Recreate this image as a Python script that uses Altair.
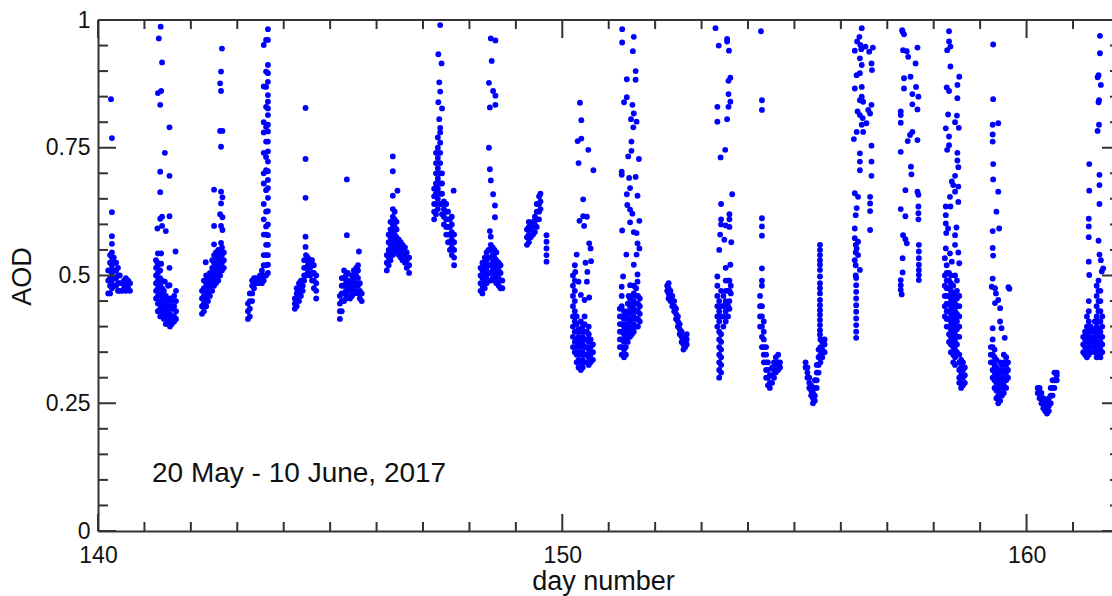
import altair as alt
import pandas as pd

# ---- data: (day number, [AOD values read at that day]) ----
day140 = [(140.28, [0.845]), (140.30, [0.769, 0.624, 0.577, 0.562]),
          (140.22, [0.51, 0.49, 0.465]),
          (140.26, [0.54, 0.525, 0.51, 0.495, 0.48, 0.465]),
          (140.30, [0.545, 0.535, 0.52, 0.505, 0.49, 0.475]),
          (140.34, [0.535, 0.525, 0.51, 0.495, 0.48]),
          (140.39, [0.525, 0.51, 0.495, 0.48]),
          (140.43, [0.515, 0.50, 0.485, 0.47]),
          (140.47, [0.50, 0.485, 0.47]), (140.52, [0.485, 0.47]),
          (140.56, [0.49, 0.475]), (140.60, [0.495, 0.48, 0.47]),
          (140.65, [0.49, 0.475]), (140.69, [0.485, 0.47])]

day141 = [(141.35, [0.987]), (141.31, [0.964]), (141.38, [0.917, 0.615, 0.597]),
          (141.29, [0.857, 0.543]), (141.36, [0.861, 0.543, 0.523]),
          (141.34, [0.834, 0.703, 0.663, 0.611]), (141.54, [0.79, 0.695, 0.616, 0.515, 0.481]),
          (141.44, [0.74, 0.488]), (141.28, [0.592, 0.525]), (141.46, [0.587]), (141.67, [0.547]),
          (141.25, [0.53, 0.515, 0.50, 0.485, 0.47, 0.455]),
          (141.29, [0.52, 0.505, 0.49, 0.475, 0.46, 0.445, 0.43]),
          (141.34, [0.51, 0.495, 0.48, 0.465, 0.45, 0.435, 0.42]),
          (141.38, [0.49, 0.475, 0.46, 0.445, 0.43, 0.42]),
          (141.42, [0.47, 0.455, 0.44, 0.425, 0.415]),
          (141.46, [0.46, 0.445, 0.43, 0.415, 0.405]),
          (141.51, [0.48, 0.45, 0.435, 0.42, 0.41]),
          (141.55, [0.455, 0.44, 0.425, 0.41, 0.40]),
          (141.59, [0.45, 0.435, 0.42, 0.405]),
          (141.64, [0.46, 0.44, 0.42, 0.41]),
          (141.68, [0.47, 0.45, 0.43, 0.415])]

day142 = [(142.67, [0.944]), (142.65, [0.899, 0.861, 0.752, 0.664, 0.641, 0.597, 0.564]),
          (142.63, [0.876, 0.783, 0.62]), (142.68, [0.783, 0.653, 0.614, 0.589]),
          (142.50, [0.668, 0.597, 0.561]), (142.32, [0.526]),
          (142.24, [0.425, 0.44, 0.455, 0.47]),
          (142.28, [0.43, 0.445, 0.46, 0.475, 0.49]),
          (142.33, [0.44, 0.455, 0.47, 0.485, 0.50]),
          (142.37, [0.45, 0.465, 0.48, 0.495]),
          (142.41, [0.46, 0.475, 0.49, 0.505]),
          (142.46, [0.47, 0.485, 0.50, 0.515, 0.53]),
          (142.50, [0.48, 0.495, 0.51, 0.525, 0.54]),
          (142.54, [0.485, 0.50, 0.515, 0.53, 0.545]),
          (142.59, [0.49, 0.505, 0.52, 0.535, 0.55]),
          (142.63, [0.50, 0.515, 0.53, 0.545]),
          (142.67, [0.51, 0.525, 0.54, 0.555]),
          (142.71, [0.515, 0.53, 0.545])]

day143 = [(143.23, [0.415, 0.43, 0.445]),
          (143.27, [0.42, 0.435, 0.45, 0.465]),
          (143.32, [0.45, 0.465, 0.48, 0.49]),
          (143.36, [0.475, 0.485, 0.495]),
          (143.40, [0.485, 0.495]), (143.45, [0.485, 0.495]),
          (143.49, [0.49, 0.50]), (143.53, [0.485, 0.495, 0.51]),
          (143.57, [0.49, 0.50, 0.52, 0.54, 0.951, 0.87, 0.80, 0.78, 0.74, 0.70, 0.68, 0.64, 0.61, 0.58]),
          (143.62, [0.50, 0.52, 0.54, 0.56, 0.58, 0.961, 0.899, 0.869, 0.830, 0.791, 0.762, 0.732, 0.706, 0.667, 0.625, 0.596]),
          (143.66, [0.982, 0.961, 0.912, 0.896, 0.879, 0.853, 0.84, 0.827, 0.814, 0.795, 0.782,
                    0.762, 0.743, 0.723, 0.704, 0.687, 0.671, 0.652, 0.626, 0.60, 0.579, 0.56,
                    0.54, 0.521, 0.505])]

day144 = [(144.47, [0.828, 0.728, 0.652, 0.576, 0.556]),
          (144.24, [0.435, 0.445, 0.455]),
          (144.28, [0.44, 0.455, 0.465, 0.475]),
          (144.33, [0.45, 0.465, 0.475, 0.485]),
          (144.37, [0.46, 0.47, 0.48, 0.49]),
          (144.41, [0.47, 0.48, 0.49]),
          (144.44, [0.49, 0.50, 0.515, 0.53]),
          (144.48, [0.50, 0.515, 0.53, 0.54]),
          (144.52, [0.505, 0.52, 0.535]),
          (144.57, [0.50, 0.515, 0.53]),
          (144.61, [0.49, 0.505, 0.52, 0.53]),
          (144.65, [0.475, 0.49, 0.505, 0.52]),
          (144.70, [0.455, 0.47, 0.485, 0.50])]

day145 = [(145.36, [0.688, 0.579]), (145.62, [0.547]),
          (145.21, [0.415, 0.43, 0.445, 0.46]),
          (145.25, [0.43, 0.45, 0.465, 0.48, 0.495]),
          (145.30, [0.45, 0.465, 0.48, 0.495, 0.51]),
          (145.34, [0.455, 0.47, 0.485, 0.50]),
          (145.38, [0.46, 0.475, 0.49, 0.505]),
          (145.43, [0.455, 0.47, 0.485]),
          (145.47, [0.46, 0.475, 0.49, 0.50]),
          (145.51, [0.465, 0.48, 0.495, 0.51]),
          (145.56, [0.47, 0.485, 0.50, 0.515]),
          (145.60, [0.465, 0.48, 0.495, 0.51, 0.52]),
          (145.64, [0.455, 0.47, 0.485]),
          (145.68, [0.45, 0.465])]

day146 = [(146.35, [0.733, 0.704, 0.656]), (146.45, [0.666]),
          (146.22, [0.51, 0.525, 0.54]),
          (146.26, [0.52, 0.535, 0.55, 0.565, 0.58]),
          (146.30, [0.53, 0.545, 0.56, 0.575, 0.59, 0.605]),
          (146.35, [0.54, 0.555, 0.57, 0.585, 0.60, 0.615, 0.63]),
          (146.39, [0.55, 0.565, 0.58, 0.595, 0.61, 0.625]),
          (146.43, [0.545, 0.56, 0.575, 0.59, 0.605]),
          (146.48, [0.54, 0.555, 0.57]),
          (146.52, [0.535, 0.55, 0.565]),
          (146.56, [0.53, 0.545, 0.56]),
          (146.61, [0.525, 0.54, 0.555]),
          (146.65, [0.515, 0.53, 0.545]),
          (146.70, [0.505, 0.52, 0.535])]

day147 = [(147.37, [0.99, 0.86, 0.789]), (147.33, [0.933, 0.839]), (147.40, [0.915]),
          (147.35, [0.878, 0.806]), (147.41, [0.827]), (147.66, [0.666]),
          (147.24, [0.61, 0.625, 0.64, 0.655, 0.67]),
          (147.28, [0.62, 0.64, 0.66, 0.68, 0.70, 0.72, 0.74]),
          (147.32, [0.63, 0.65, 0.67, 0.69, 0.71, 0.73, 0.75, 0.77]),
          (147.37, [0.64, 0.66, 0.68, 0.70, 0.72, 0.74, 0.76, 0.78]),
          (147.41, [0.62, 0.64, 0.66, 0.68, 0.70]),
          (147.45, [0.60, 0.615, 0.63, 0.645]),
          (147.50, [0.58, 0.595, 0.61, 0.625, 0.64]),
          (147.54, [0.565, 0.58, 0.595, 0.61, 0.625]),
          (147.58, [0.55, 0.565, 0.58, 0.595, 0.61]),
          (147.62, [0.54, 0.555, 0.57, 0.585, 0.60, 0.615]),
          (147.67, [0.52, 0.535, 0.55, 0.565, 0.58])]

day148 = [(148.46, [0.964, 0.686, 0.576]), (148.56, [0.96, 0.852, 0.834]), (148.48, [0.92]),
          (148.42, [0.877, 0.75]), (148.51, [0.861, 0.659]), (148.44, [0.829, 0.708, 0.587]),
          (148.55, [0.637, 0.614]),
          (148.24, [0.47, 0.485, 0.50, 0.515]),
          (148.28, [0.465, 0.48, 0.495, 0.51, 0.525]),
          (148.33, [0.475, 0.49, 0.505, 0.52, 0.535]),
          (148.37, [0.485, 0.50, 0.515, 0.53, 0.545]),
          (148.41, [0.49, 0.505, 0.52, 0.535, 0.55]),
          (148.46, [0.49, 0.505, 0.52, 0.535, 0.55, 0.56]),
          (148.50, [0.495, 0.51, 0.525, 0.54, 0.555]),
          (148.54, [0.49, 0.505, 0.52, 0.535, 0.55]),
          (148.58, [0.485, 0.50, 0.515, 0.53, 0.545]),
          (148.63, [0.48, 0.495, 0.51, 0.525]),
          (148.67, [0.475, 0.49, 0.505, 0.52]),
          (148.71, [0.475, 0.49])]

day149 = [(149.24, [0.56, 0.575, 0.59]),
          (149.28, [0.565, 0.58, 0.595, 0.605]),
          (149.32, [0.575, 0.59, 0.60]),
          (149.37, [0.58, 0.595, 0.605]),
          (149.41, [0.585, 0.60, 0.615]),
          (149.45, [0.595, 0.61, 0.625, 0.64]),
          (149.50, [0.61, 0.625, 0.64, 0.655]),
          (149.53, [0.63, 0.645, 0.66]),
          (149.66, [0.527, 0.54, 0.553, 0.566, 0.579])]

day150 = [(150.38, [0.838]), (150.41, [0.804, 0.768]), (150.33, [0.763]), (150.56, [0.746]),
          (150.35, [0.72, 0.488]), (150.67, [0.706]), (150.45, [0.649, 0.616]), (150.53, [0.615, 0.488]),
          (150.37, [0.607]), (150.47, [0.597]), (150.58, [0.563, 0.457]), (150.61, [0.553]),
          (150.31, [0.541]), (150.62, [0.528]), (150.50, [0.525]), (150.28, [0.507]),
          (150.54, [0.507]), (150.40, [0.462]), (150.48, [0.452]),
          (150.23, [0.36, 0.38, 0.40, 0.42, 0.44, 0.46, 0.48, 0.50]),
          (150.27, [0.35, 0.37, 0.39, 0.41, 0.43, 0.45, 0.47, 0.49, 0.52]),
          (150.31, [0.33, 0.345, 0.36, 0.375, 0.39, 0.405, 0.42]),
          (150.35, [0.32, 0.335, 0.35, 0.365, 0.38, 0.395]),
          (150.40, [0.315, 0.33, 0.345, 0.36, 0.375, 0.39, 0.41]),
          (150.44, [0.32, 0.335, 0.35, 0.365, 0.38, 0.40]),
          (150.48, [0.33, 0.345, 0.36, 0.375, 0.39, 0.405, 0.42]),
          (150.53, [0.33, 0.345, 0.36, 0.375, 0.39]),
          (150.57, [0.325, 0.34, 0.355, 0.37, 0.385, 0.40]),
          (150.61, [0.33, 0.345, 0.36, 0.375]),
          (150.66, [0.335, 0.35, 0.365])]

day151 = [(151.29, [0.982, 0.956, 0.588]), (151.54, [0.967, 0.817, 0.585, 0.521]), (151.52, [0.939]),
          (151.58, [0.90, 0.883, 0.693]), (151.39, [0.884, 0.849, 0.659]), (151.33, [0.839]),
          (151.51, [0.834, 0.621]), (151.48, [0.806]), (151.60, [0.801, 0.583, 0.541]),
          (151.53, [0.79]), (151.49, [0.762, 0.744]), (151.42, [0.733]), (151.65, [0.728]),
          (151.28, [0.703, 0.697, 0.478]), (151.44, [0.691]), (151.46, [0.671, 0.629, 0.604, 0.481]),
          (151.62, [0.656, 0.563, 0.502, 0.488]), (151.40, [0.638]), (151.66, [0.607, 0.553]),
          (151.38, [0.541]), (151.31, [0.498]), (151.43, [0.46]),
          (151.24, [0.36, 0.375, 0.39, 0.405, 0.42, 0.435]),
          (151.28, [0.345, 0.36, 0.375, 0.39, 0.405, 0.42, 0.44, 0.46]),
          (151.33, [0.34, 0.355, 0.37, 0.385, 0.40, 0.415, 0.43]),
          (151.37, [0.345, 0.36, 0.375, 0.39, 0.405, 0.42]),
          (151.41, [0.37, 0.385, 0.40, 0.415, 0.43, 0.445]),
          (151.46, [0.38, 0.395, 0.41, 0.425, 0.44, 0.455]),
          (151.50, [0.385, 0.40, 0.415, 0.43, 0.445, 0.46]),
          (151.54, [0.39, 0.405, 0.42, 0.435, 0.45, 0.465, 0.48]),
          (151.59, [0.40, 0.415, 0.43, 0.445, 0.46, 0.475]),
          (151.63, [0.40, 0.415, 0.43, 0.445, 0.46]),
          (151.67, [0.41, 0.425, 0.44, 0.455])]

day152 = [(152.26, [0.47, 0.48]),
          (152.29, [0.455, 0.465, 0.475, 0.485]),
          (152.33, [0.45, 0.46, 0.47]),
          (152.37, [0.44, 0.45, 0.46]),
          (152.41, [0.43, 0.44, 0.45]),
          (152.45, [0.415, 0.425, 0.435]),
          (152.49, [0.40, 0.41, 0.42]),
          (152.53, [0.385, 0.395, 0.405]),
          (152.57, [0.37, 0.38, 0.39]),
          (152.61, [0.355, 0.365, 0.375]),
          (152.65, [0.36, 0.37, 0.38]),
          (152.68, [0.365, 0.375, 0.385])]

day153 = [(153.30, [0.984]), (153.37, [0.95]), (153.55, [0.963, 0.958, 0.806]), (153.59, [0.94]),
          (153.62, [0.887, 0.84, 0.521]), (153.58, [0.881, 0.855, 0.83]), (153.34, [0.83, 0.801, 0.498]),
          (153.51, [0.746]), (153.41, [0.731]), (153.66, [0.659]), (153.42, [0.64, 0.61, 0.60]),
          (153.60, [0.61, 0.62, 0.595, 0.435]), (153.52, [0.598, 0.515, 0.448]), (153.40, [0.58]),
          (153.49, [0.57]), (153.64, [0.565]), (153.38, [0.55]), (153.57, [0.49]), (153.63, [0.48, 0.465]),
          (153.34, [0.40, 0.42, 0.44, 0.46, 0.48]),
          (153.38, [0.30, 0.315, 0.33, 0.345, 0.36, 0.375, 0.39, 0.41, 0.43, 0.45]),
          (153.42, [0.31, 0.325, 0.34, 0.355, 0.37, 0.385, 0.42, 0.44, 0.47]),
          (153.47, [0.40, 0.42, 0.44, 0.46]),
          (153.52, [0.41, 0.43, 0.45, 0.47, 0.49]),
          (153.57, [0.42, 0.44, 0.47]),
          (153.60, [0.45, 0.47, 0.49])]

day154 = [(154.28, [0.978]), (154.30, [0.843, 0.824, 0.612, 0.596, 0.578, 0.514, 0.49, 0.48]),
          (154.26, [0.40, 0.42, 0.44, 0.46]),
          (154.30, [0.36, 0.38, 0.40, 0.42, 0.44]),
          (154.34, [0.33, 0.345, 0.36, 0.375, 0.39, 0.41]),
          (154.39, [0.30, 0.315, 0.33, 0.345, 0.36]),
          (154.43, [0.285, 0.30, 0.315, 0.33]),
          (154.47, [0.28, 0.29, 0.305]),
          (154.52, [0.29, 0.305, 0.32]),
          (154.56, [0.30, 0.315, 0.33]),
          (154.60, [0.31, 0.325, 0.34]),
          (154.65, [0.315, 0.33, 0.345]),
          (154.69, [0.32, 0.33])]

day155 = [(155.55, [0.56, 0.55, 0.54, 0.53, 0.521, 0.511, 0.498, 0.485, 0.475, 0.465, 0.452,
                    0.442, 0.432, 0.423, 0.413, 0.403, 0.393, 0.384]),
          (155.24, [0.32, 0.33]),
          (155.28, [0.30, 0.31, 0.32]),
          (155.32, [0.28, 0.29, 0.30]),
          (155.36, [0.265, 0.275, 0.285]),
          (155.40, [0.25, 0.26, 0.27]),
          (155.44, [0.255, 0.265, 0.28, 0.295]),
          (155.48, [0.28, 0.295, 0.31, 0.325]),
          (155.52, [0.31, 0.325, 0.34, 0.355]),
          (155.56, [0.33, 0.345, 0.36, 0.375]),
          (155.60, [0.34, 0.355, 0.37]),
          (155.65, [0.35, 0.365, 0.375])]

day156 = [(156.45, [0.984, 0.912, 0.869, 0.85, 0.795]), (156.40, [0.967]), (156.35, [0.958]),
          (156.42, [0.951]), (156.30, [0.94, 0.866, 0.661, 0.592, 0.573, 0.53]),
          (156.44, [0.943]), (156.53, [0.948]), (156.61, [0.938]), (156.69, [0.946]),
          (156.41, [0.925, 0.896, 0.843, 0.814, 0.739, 0.723, 0.706, 0.511]),
          (156.34, [0.892, 0.781, 0.632, 0.553]), (156.66, [0.915, 0.834, 0.754, 0.723, 0.695]),
          (156.67, [0.902]), (156.48, [0.84, 0.781]), (156.59, [0.824]), (156.36, [0.821]),
          (156.47, [0.808]), (156.63, [0.817, 0.654, 0.641, 0.626, 0.589]), (156.55, [0.798]),
          (156.28, [0.767]), (156.37, [0.654, 0.566, 0.54]), (156.32, [0.618, 0.56, 0.545, 0.52, 0.50]),
          (156.33, [0.495, 0.481, 0.468, 0.455, 0.442, 0.429, 0.416, 0.403, 0.39, 0.378])]

day157 = [(157.33, [0.977, 0.534, 0.506]), (157.36, [0.972, 0.886, 0.866]), (157.32, [0.98]),
          (157.34, [0.941, 0.579]), (157.42, [0.939, 0.563]), (157.45, [0.928]), (157.65, [0.946, 0.825, 0.765, 0.664]),
          (157.61, [0.915]), (157.50, [0.889]), (157.62, [0.869]), (157.67, [0.85, 0.658, 0.635, 0.622, 0.61]),
          (157.54, [0.855, 0.835, 0.781]), (157.29, [0.821, 0.814, 0.799, 0.742, 0.63, 0.491, 0.481, 0.472]),
          (157.49, [0.775]), (157.44, [0.763]), (157.51, [0.713]), (157.52, [0.698]),
          (157.39, [0.667, 0.616, 0.571]), (157.31, [0.463]),
          (157.68, [0.56, 0.547, 0.534, 0.521, 0.511, 0.501, 0.491])]

day158 = [(158.33, [0.978, 0.958, 0.861, 0.772, 0.755]), (158.36, [0.948, 0.909, 0.635]),
          (158.29, [0.941, 0.746]), (158.55, [0.889, 0.524]), (158.28, [0.868]),
          (158.51, [0.873, 0.847, 0.74, 0.725]), (158.31, [0.815, 0.592]), (158.50, [0.813]),
          (158.46, [0.80, 0.695, 0.664, 0.579, 0.56]), (158.54, [0.789]), (158.26, [0.788, 0.635, 0.618, 0.602, 0.553]),
          (158.53, [0.712, 0.674, 0.644, 0.545]), (158.39, [0.684, 0.527]), (158.42, [0.677]),
          (158.35, [0.654, 0.543]), (158.49, [0.594]), (158.27, [0.583]), (158.24, [0.534]),
          (158.24, [0.42, 0.44, 0.46, 0.48, 0.50]),
          (158.28, [0.40, 0.415, 0.43, 0.445, 0.46, 0.475, 0.49, 0.505, 0.52]),
          (158.33, [0.37, 0.385, 0.40, 0.415, 0.43, 0.445, 0.46, 0.475, 0.49, 0.505]),
          (158.37, [0.35, 0.365, 0.38, 0.395, 0.41, 0.425, 0.44, 0.455, 0.47, 0.485, 0.50]),
          (158.42, [0.33, 0.345, 0.36, 0.375, 0.39, 0.405, 0.42, 0.435, 0.45, 0.465, 0.48]),
          (158.46, [0.325, 0.34, 0.355, 0.37, 0.385, 0.40, 0.415, 0.43, 0.445, 0.46, 0.50]),
          (158.50, [0.35, 0.365, 0.38, 0.395, 0.41, 0.425, 0.44, 0.455, 0.47, 0.49]),
          (158.55, [0.29, 0.30, 0.315, 0.33, 0.345, 0.38, 0.40, 0.42, 0.44, 0.46]),
          (158.59, [0.28, 0.29, 0.305, 0.32, 0.335]),
          (158.63, [0.285, 0.30, 0.315, 0.33]),
          (158.67, [0.29, 0.305, 0.32])]

day159 = [(159.28, [0.952, 0.845, 0.718, 0.688, 0.539]), (159.27, [0.795, 0.776, 0.762, 0.587, 0.554, 0.494, 0.397]),
          (159.39, [0.798, 0.664, 0.452]), (159.35, [0.625]), (159.41, [0.592]), (159.25, [0.478]),
          (159.32, [0.475, 0.446]), (159.61, [0.477]), (159.63, [0.474]), (159.34, [0.465]),
          (159.43, [0.436, 0.41]), (159.46, [0.397]), (159.53, [0.378]),
          (159.23, [0.33, 0.345, 0.36]),
          (159.27, [0.30, 0.315, 0.33, 0.345, 0.36, 0.375]),
          (159.31, [0.28, 0.295, 0.31, 0.325, 0.34, 0.355]),
          (159.35, [0.26, 0.275, 0.29, 0.305, 0.32, 0.335]),
          (159.39, [0.25, 0.265, 0.28, 0.295, 0.31]),
          (159.43, [0.255, 0.27, 0.285, 0.30, 0.315, 0.33]),
          (159.47, [0.265, 0.28, 0.295, 0.31, 0.325]),
          (159.51, [0.27, 0.285, 0.30, 0.315, 0.33, 0.345]),
          (159.56, [0.28, 0.295, 0.31, 0.325, 0.34]),
          (159.60, [0.30, 0.315, 0.33])]

day160 = [(160.24, [0.27, 0.28]),
          (160.28, [0.26, 0.27, 0.28]),
          (160.32, [0.25, 0.26, 0.27]),
          (160.36, [0.24, 0.25, 0.26]),
          (160.40, [0.235, 0.245, 0.255]),
          (160.44, [0.23, 0.24, 0.25]),
          (160.48, [0.235, 0.245, 0.26]),
          (160.52, [0.25, 0.265, 0.28]),
          (160.56, [0.265, 0.28, 0.295]),
          (160.60, [0.28, 0.295, 0.31]),
          (160.65, [0.295, 0.305, 0.31])]

day161 = [(161.58, [0.969, 0.935]), (161.55, [0.892, 0.839, 0.568]), (161.53, [0.888, 0.783]),
          (161.60, [0.873, 0.53]), (161.56, [0.843, 0.795]), (161.35, [0.718, 0.666, 0.501]),
          (161.57, [0.697, 0.677, 0.64, 0.541]), (161.34, [0.611, 0.596, 0.575, 0.527]),
          (161.65, [0.514]), (161.62, [0.508]),
          (161.22, [0.35, 0.365, 0.38]),
          (161.26, [0.345, 0.36, 0.375, 0.39]),
          (161.30, [0.34, 0.355, 0.37, 0.385, 0.40, 0.42]),
          (161.34, [0.345, 0.36, 0.375, 0.39, 0.41, 0.43, 0.45]),
          (161.38, [0.35, 0.365, 0.38, 0.40]),
          (161.42, [0.36, 0.375, 0.39]),
          (161.47, [0.35, 0.365, 0.38, 0.395, 0.41]),
          (161.51, [0.34, 0.355, 0.37, 0.385, 0.40, 0.42, 0.44, 0.46, 0.48]),
          (161.55, [0.35, 0.365, 0.38, 0.395, 0.41, 0.43, 0.45, 0.47, 0.49]),
          (161.59, [0.34, 0.355, 0.37, 0.39, 0.41, 0.43, 0.45, 0.47]),
          (161.63, [0.35, 0.365, 0.38, 0.40, 0.42])]

x_major = [140, 150, 160]
x_minor = [141, 142, 143, 144, 145, 146, 147, 148, 149,
           151, 152, 153, 154, 155, 156, 157, 158, 159, 161]
y_major = [0, 0.25, 0.5, 0.75, 1]
y_minor = [0.05, 0.1, 0.15, 0.2, 0.3, 0.35, 0.4, 0.45, 0.55, 0.6, 0.65, 0.7, 0.8, 0.85, 0.9, 0.95]
annotation = "20 May - 10 June, 2017"

# ---- build table ----
clusters = [day140, day141, day142, day143, day144, day145, day146, day147, day148, day149,
            day150, day151, day152, day153, day154, day155, day156, day157, day158, day159,
            day160, day161]
rows = [{"day": d, "aod": v} for cl in clusters for d, vals in cl for v in vals]
df = pd.DataFrame(rows)

W, H = 1014, 511
FONT = "Liberation Sans"
AX = "#333333"
TXT = "#111111"
xs = alt.Scale(domain=[140, 161.84], nice=False, zero=False)
ys = alt.Scale(domain=[0, 1], nice=False, zero=False)

x_axis = alt.Axis(
    values=x_major, format="d", title="day number", grid=False, ticks=False,
    domainColor=AX, domainWidth=2, labelFont=FONT, labelFontSize=23, labelColor=TXT,
    labelPadding=31, labelBaseline="alphabetic", labelFlush=False, labelAlign="center",
    titleFont=FONT, titleFontSize=27, titleFontWeight="normal", titleColor=TXT,
    titleX=505, titleY=58, titleBaseline="alphabetic", titleAlign="center")
y_axis = alt.Axis(
    values=y_major, labelExpr="'' + datum.value", title="AOD", grid=False, ticks=False,
    domainColor=AX, domainWidth=2, labelFont=FONT, labelFontSize=23, labelColor=TXT,
    labelPadding=8, labelFlush=False, labelAlign="right", labelBaseline="middle",
    titleFont=FONT, titleFontSize=27, titleFontWeight="normal", titleColor=TXT,
    titleAngle=-90, titleX=-76, titleY=256, titleAlign="center", titleBaseline="middle")

X = lambda: alt.X("day:Q", scale=xs, axis=x_axis)
Y = lambda: alt.Y("aod:Q", scale=ys, axis=y_axis)

points = alt.Chart(df).mark_circle(size=34, color="#0000ff", opacity=1).encode(x=X(), y=Y())


def xticks(vals, length, top):
    d = pd.DataFrame({"day": vals})
    if top:
        yy, yy2 = alt.value(0), alt.value(length)
    else:
        yy, yy2 = alt.value(H - length), alt.value(H)
    return alt.Chart(d).mark_rule(color=AX, strokeWidth=2).encode(x=X(), y=yy, y2=yy2)


def yticks(vals, x0, x1):
    d = pd.DataFrame({"aod": vals})
    return alt.Chart(d).mark_rule(color=AX, strokeWidth=2).encode(
        y=Y(), x=alt.value(x0), x2=alt.value(x1))


top_border = alt.Chart(pd.DataFrame({"aod": [1]})).mark_rule(color=AX, strokeWidth=2).encode(
    y=Y(), x=alt.value(0), x2=alt.value(W))

label = alt.Chart(pd.DataFrame({"t": [annotation]})).mark_text(
    align="left", baseline="alphabetic", font=FONT, fontSize=28, color=TXT).encode(
    x=alt.value(54), y=alt.value(462), text="t:N")

chart = alt.layer(
    points,
    top_border,
    xticks(x_major, 18, True), xticks(x_minor, 9, True),
    xticks(x_major, 17, False), xticks(x_minor, 9, False),
    yticks(y_major, 0, 18), yticks(y_minor, 0, 10),
    yticks(y_major, W - 10, W), yticks(y_minor, W - 2, W),
    label,
).properties(
    width=W, height=H,
    autosize=alt.AutoSizeParams(type="none"),
    padding={"left": 98, "top": 20, "right": 0, "bottom": 65},
).configure_view(stroke=None)

chart.save("out.html", embed_options={"renderer": "svg", "actions": False})
